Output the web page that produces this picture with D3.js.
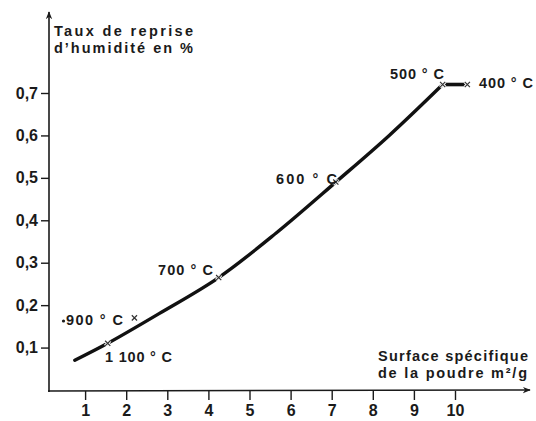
<!DOCTYPE html>
<html>
<head>
<meta charset="utf-8">
<script src="https://cdn.jsdelivr.net/npm/d3@7"></script>
<style>
  body { margin: 0; background: #fff; }
  svg { display: block; }
  text { font-family: "Liberation Sans", Arial, sans-serif; fill: #1a1a1a; }
  .tick text { font-size: 16px; font-weight: bold; }
  .lbl { font-size: 14.5px; font-weight: bold; }
</style>
</head>
<body>
<div id="chart"></div>
<script>
// data
var curveX = [0.75, 1.55, 2.8, 4.25, 5.65, 7.1, 8.4, 9.7];
var curveY = [0.07, 0.11, 0.18, 0.265, 0.37, 0.49, 0.6, 0.72];

var tempLabels = ["1 100 ° C", "900 ° C", "700 ° C", "600 ° C", "500 ° C", "400 ° C"];
var tempX = [1.55, 2.2, 4.25, 7.1, 9.7, 10.3];
var tempY = [0.11, 0.17, 0.265, 0.49, 0.72, 0.72];

var xTicks = [1, 2, 3, 4, 5, 6, 7, 8, 9, 10];
var yTicks = [0.1, 0.2, 0.3, 0.4, 0.5, 0.6, 0.7];

var svgWidth = 536;
var svgHeight = 421;

var svg = d3.select("#chart")
    .append("svg")
    .attr("width", svgWidth)
    .attr("height", svgHeight);

var x = d3.scaleLinear().domain([0, 10]).range([44, 455]);
var y = d3.scaleLinear().domain([0, 0.7]).range([390, 93]);

var x0 = 49, yAxisPos = 391;

// arrow head
svg.append("defs").append("marker")
    .attr("id", "arrow")
    .attr("viewBox", "0 0 10 10")
    .attr("refX", 9).attr("refY", 5)
    .attr("markerWidth", 8).attr("markerHeight", 8)
    .attr("markerUnits", "userSpaceOnUse")
    .attr("orient", "auto")
    .append("path")
    .attr("d", "M0,1 L10,5 L0,9 L3,5 Z")
    .attr("fill", "#1a1a1a");

// axes lines with arrows
svg.append("line")
    .attr("x1", x0).attr("y1", yAxisPos + 1)
    .attr("x2", x0).attr("y2", 12)
    .attr("stroke", "#1a1a1a").attr("stroke-width", 1.6)
    .attr("marker-end", "url(#arrow)");

svg.append("line")
    .attr("x1", x0 - 1).attr("y1", yAxisPos)
    .attr("x2", 530).attr("y2", yAxisPos - 1)
    .attr("stroke", "#1a1a1a").attr("stroke-width", 1.6)
    .attr("marker-end", "url(#arrow)");

var fr = d3.formatLocale({decimal: ",", thousands: " ", grouping: [3], currency: ["", ""]});

var yAxis = d3.axisLeft(y)
    .tickValues(yTicks)
    .tickFormat(fr.format(".1f"))
    .tickSize(8)
    .tickPadding(3);

svg.append("g")
    .attr("transform", "translate(" + x0 + ",0)")
    .call(yAxis)
    .call(function(g) { g.select(".domain").remove(); })
    .call(function(g) { g.selectAll("line").attr("stroke", "#1a1a1a").attr("stroke-width", 1.4); });

var xAxis = d3.axisBottom(x)
    .tickValues(xTicks)
    .tickFormat(d3.format("d"))
    .tickSize(9)
    .tickPadding(5);

svg.append("g")
    .attr("transform", "translate(0," + yAxisPos + ")")
    .call(xAxis)
    .call(function(g) { g.select(".domain").remove(); })
    .call(function(g) { g.selectAll("line").attr("stroke", "#1a1a1a").attr("stroke-width", 1.4); });

// axis titles
svg.append("text").attr("class", "lbl")
    .attr("x", 54).attr("y", 36)
    .attr("textLength", 139).attr("lengthAdjust", "spacing")
    .text("Taux de reprise");
svg.append("text").attr("class", "lbl")
    .attr("x", 54).attr("y", 53)
    .attr("textLength", 139).attr("lengthAdjust", "spacing")
    .text("d\u2019humidité en %");

svg.append("text").attr("class", "lbl")
    .attr("x", 378).attr("y", 361)
    .attr("textLength", 150).attr("lengthAdjust", "spacing")
    .text("Surface spécifique");
svg.append("text").attr("class", "lbl")
    .attr("x", 378).attr("y", 378)
    .attr("textLength", 149).attr("lengthAdjust", "spacing")
    .text("de la poudre m²/g");

// curve
var pts = curveX.map(function(d, i) { return [d, curveY[i]]; });
var line = d3.line()
    .x(function(d) { return x(d[0]); })
    .y(function(d) { return y(d[1]); })
    .curve(d3.curveCatmullRom);

svg.append("path")
    .datum(pts)
    .attr("d", line)
    .attr("fill", "none")
    .attr("stroke", "#111")
    .attr("stroke-width", 3.4)
    .attr("stroke-linecap", "round");

// flat segment 500 -> 400
svg.append("line")
    .attr("x1", x(tempX[4])).attr("y1", y(tempY[4]))
    .attr("x2", x(tempX[5])).attr("y2", y(tempY[5]))
    .attr("stroke", "#111").attr("stroke-width", 3.6);

// x markers
var marks = svg.append("g");
tempX.forEach(function(d, i) {
    var cx = x(d), cy = y(tempY[i]), s = 2.6;
    var p = "M" + (cx - s) + "," + (cy - s) + "L" + (cx + s) + "," + (cy + s) +
            "M" + (cx - s) + "," + (cy + s) + "L" + (cx + s) + "," + (cy - s);
    marks.append("path").attr("d", p).attr("stroke", "#fff").attr("stroke-width", 3);
    marks.append("path").attr("d", p).attr("stroke", "#333").attr("stroke-width", 1.2);
});

// temperature labels
var labelPos = [[105, 362], [66, 325], [158, 275], [276, 184], [390, 79], [479, 88]];
var labelW = [67, 57, 55, 61, 54, 54];
tempLabels.forEach(function(t, i) {
    svg.append("text").attr("class", "lbl")
        .attr("x", labelPos[i][0]).attr("y", labelPos[i][1])
        .attr("textLength", labelW[i]).attr("lengthAdjust", "spacing")
        .text(t);
});
svg.append("circle").attr("cx", 63.5).attr("cy", 321).attr("r", 1.6).attr("fill", "#1a1a1a");
</script>
</body>
</html>
